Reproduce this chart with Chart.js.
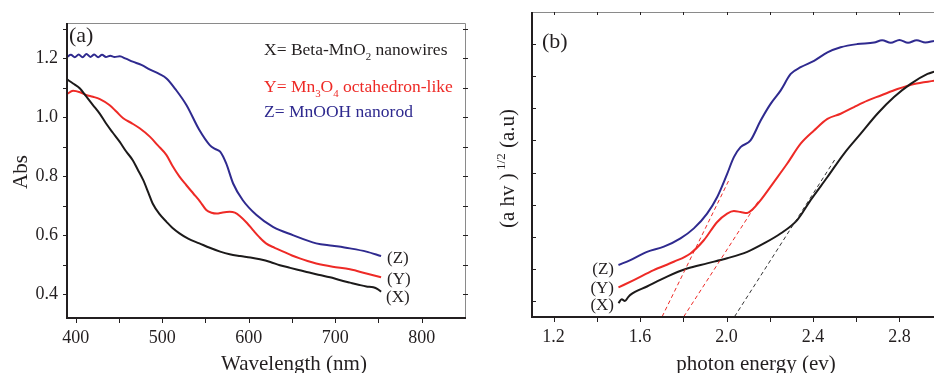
<!DOCTYPE html>
<html>
<head>
<meta charset="utf-8">
<script src="https://cdn.jsdelivr.net/npm/chart.js@4.4.0/dist/chart.umd.min.js"></script>
<style>
  html, body { margin: 0; padding: 0; background: #fff; overflow: hidden; }
  #wrap { position: relative; width: 934px; height: 373px; }
  #panelA { position: absolute; left: 0; top: 0; }
  #panelB { position: absolute; left: 480px; top: 0; }
</style>
</head>
<body>
<div id="wrap">
  <canvas id="panelA" width="480" height="373"></canvas>
  <canvas id="panelB" width="454" height="373"></canvas>
</div>
<script>
// ---- panel (a): absorbance vs wavelength ----
const waveX = [390,397,405,412,420,428,435,443,451,458,466,472,478,484,489,497,505,512,520,530,543,555,567,578,590,602,613,625,636,648,659,670,682,694,705,717,728,736,744,749,753];
const absX  = [1.129,1.115,1.098,1.072,1.042,1.012,0.98,0.948,0.917,0.886,0.855,0.822,0.788,0.745,0.708,0.672,0.646,0.625,0.607,0.589,0.573,0.558,0.545,0.536,0.53,0.525,0.519,0.51,0.499,0.49,0.482,0.474,0.466,0.458,0.449,0.44,0.432,0.427,0.424,0.418,0.409];

const waveY = [390,397,405,412,420,428,439,447,455,465,474,486,495,505,512,520,528,536,544,551,557,563,570,578,584,590,598,605,612,620,630,640,650,659,668,678,697,717,736,753];
const absY  = [1.079,1.09,1.085,1.076,1.07,1.062,1.042,1.02,0.997,0.98,0.963,0.934,0.905,0.872,0.835,0.799,0.77,0.742,0.714,0.686,0.677,0.674,0.678,0.68,0.677,0.665,0.642,0.618,0.595,0.573,0.558,0.545,0.532,0.522,0.513,0.505,0.494,0.485,0.471,0.458];

const waveZ = [390,394.5,399,403.5,408,412.5,417,421.5,426,430.5,435,440,445,451,458,466,476,486,496,505,516,528,543,555,561,567,574,582,593,609,628,651,678,697,717,736,753];
const absZ  = [1.205,1.212,1.204,1.213,1.204,1.215,1.205,1.213,1.204,1.212,1.205,1.209,1.205,1.207,1.199,1.189,1.178,1.162,1.148,1.132,1.093,1.042,0.957,0.906,0.893,0.884,0.844,0.776,0.72,0.669,0.629,0.601,0.573,0.565,0.556,0.545,0.530];

const ticksWave = [400, 500, 600, 700, 800];
const ticksAbs  = [0.4, 0.6, 0.8, 1.0, 1.2];

// ---- panel (b): (a hv)^1/2 vs photon energy ----
const energyX = [1.50,1.515,1.53,1.545,1.555,1.632,1.725,1.818,1.91,2.003,2.096,2.173,2.25,2.327,2.389,2.467,2.544,2.621,2.698,2.775,2.852,2.93,2.964];
const ahvX    = [0.93,1.05,1.0,1.12,1.19,1.45,1.76,2.01,2.17,2.33,2.53,2.79,3.10,3.52,4.14,4.86,5.59,6.21,6.83,7.35,7.76,8.07,8.15];

const energyY = [1.50,1.571,1.663,1.756,1.833,1.895,1.957,2.003,2.034,2.065,2.096,2.12,2.158,2.22,2.281,2.343,2.405,2.467,2.528,2.59,2.652,2.714,2.791,2.868,2.964];
const ahvY    = [1.42,1.65,1.96,2.22,2.48,2.89,3.46,3.72,3.80,3.77,3.74,3.85,4.14,4.71,5.28,5.90,6.31,6.67,6.83,7.04,7.24,7.40,7.60,7.76,7.86];

const energyZ = [1.50,1.555,1.632,1.71,1.787,1.849,1.91,1.957,2.003,2.034,2.065,2.111,2.158,2.204,2.25,2.297,2.343,2.405,2.467,2.528,2.605,2.683,2.72,2.76,2.80,2.84,2.88,2.92,2.96];
const ahvZ    = [2.12,2.27,2.53,2.69,2.95,3.26,3.72,4.24,4.96,5.48,5.79,6.0,6.62,7.14,7.55,8.07,8.28,8.48,8.74,8.90,9.0,9.05,9.12,9.04,9.13,9.04,9.12,9.05,9.1];

// tangent (extrapolation) lines
const tanZe = [1.702, 2.011], tanZv = [0.51, 4.76];
const tanYe = [1.802, 2.15],  tanYv = [0.51, 4.14];
const tanXe = [2.037, 2.5],   tanXv = [0.51, 5.39];

const ticksEnergy = [1.2, 1.6, 2.0, 2.4, 2.8];

const BLACK = '#1c1a1a', RED = '#ee2a26', BLUE = '#2f2a8f', TEXT = '#231f20';
const SERIF = '"Liberation Serif", "Times New Roman", serif';

Chart.defaults.font.family = SERIF;
Chart.defaults.color = TEXT;

function pts(xs, ys) {
    return xs.map((v, i) => ({ x: v, y: ys[i] }));
}

function curva(label, xs, ys, color) {
    return { label: label, data: pts(xs, ys), borderColor: color, borderWidth: 2,
             pointRadius: 0, cubicInterpolationMode: 'monotone', fill: false };
}

function tangente(label, xs, ys, color) {
    return { label: label, data: pts(xs, ys), borderColor: color, borderWidth: 1,
             borderDash: [4, 3], pointRadius: 0, tension: 0, fill: false };
}

// text with sub / superscripts: parts = [[text, 'sub'|'sup'|undefined], ...]
function rich(ctx, parts, x, y, size, color) {
    ctx.fillStyle = color;
    ctx.textBaseline = 'alphabetic';
    ctx.textAlign = 'left';
    let cx = x;
    parts.forEach(p => {
        const s = p[1] ? size * 0.62 : size;
        const dy = p[1] === 'sub' ? size * 0.28 : (p[1] === 'sup' ? -size * 0.42 : 0);
        ctx.font = s + 'px ' + SERIF;
        ctx.fillText(p[0], cx, y + dy);
        cx += ctx.measureText(p[0]).width;
    });
    return cx - x;
}

function marcoA(chart) {
    const ctx = chart.ctx, a = chart.chartArea, sx = chart.scales.x, sy = chart.scales.y;
    ctx.save();
    ctx.strokeStyle = '#8a8a8a'; ctx.lineWidth = 1;
    ctx.beginPath();
    ctx.moveTo(a.left, a.top + 0.5); ctx.lineTo(a.right + 0.5, a.top + 0.5); ctx.lineTo(a.right + 0.5, a.bottom);
    ctx.stroke();
    ctx.strokeStyle = TEXT; ctx.lineWidth = 2;
    ctx.beginPath();
    ctx.moveTo(a.left, a.top); ctx.lineTo(a.left, a.bottom); ctx.lineTo(a.right + 1, a.bottom);
    ctx.stroke();
    ctx.lineWidth = 1;
    ctx.beginPath();
    for (let w = 400; w <= 800; w += 50) {
        const px = Math.round(sx.getPixelForValue(w)) + 0.5;
        ctx.moveTo(px, a.bottom); ctx.lineTo(px, a.bottom + 5);
    }
    for (let k = 4; k <= 13; k++) {
        const py = Math.round(sy.getPixelForValue(k / 10)) + 0.5;
        ctx.moveTo(a.left - 4, py); ctx.lineTo(a.left, py);
        ctx.moveTo(a.right - 2, py); ctx.lineTo(a.right + 3, py);
    }
    ctx.stroke();

    // texts
    ctx.font = '22px ' + SERIF; ctx.fillStyle = TEXT; ctx.textAlign = 'left'; ctx.textBaseline = 'alphabetic';
    ctx.fillText('(a)', 69, 42);
    rich(ctx, [['X= Beta-MnO'], ['2', 'sub'], [' nanowires']], 264, 55, 17.5, TEXT);
    rich(ctx, [['Y= Mn'], ['3', 'sub'], ['O'], ['4', 'sub'], [' octahedron-like']], 264, 92, 17.5, RED);
    rich(ctx, [['Z= MnOOH nanorod']], 264, 117, 17.5, BLUE);
    ctx.font = '17px ' + SERIF; ctx.fillStyle = TEXT;
    ctx.fillText('(Z)', 387, 263);
    ctx.fillText('(Y)', 387, 284);
    ctx.fillText('(X)', 386, 302);

    // axis titles
    ctx.font = '21px ' + SERIF; ctx.textAlign = 'center';
    ctx.fillText('Wavelength (nm)', 294, 370);
    ctx.save();
    ctx.translate(27, 172); ctx.rotate(-Math.PI / 2);
    ctx.textBaseline = 'alphabetic';
    ctx.fillText('Abs', 0, 0);
    ctx.restore();
    ctx.restore();
}

function marcoB(chart) {
    const ctx = chart.ctx, a = chart.chartArea, sx = chart.scales.x, sy = chart.scales.y;
    ctx.save();
    ctx.strokeStyle = '#8a8a8a'; ctx.lineWidth = 1;
    ctx.beginPath();
    ctx.moveTo(a.left, a.top + 0.5); ctx.lineTo(a.right + 2, a.top + 0.5);
    ctx.stroke();
    ctx.strokeStyle = TEXT; ctx.lineWidth = 2;
    ctx.beginPath();
    ctx.moveTo(a.left, a.top); ctx.lineTo(a.left, a.bottom); ctx.lineTo(a.right + 2, a.bottom);
    ctx.stroke();
    ctx.lineWidth = 1;
    ctx.beginPath();
    for (let k = 6; k <= 14; k++) {
        const px = Math.round(sx.getPixelForValue(k / 5)) + 0.5;
        ctx.moveTo(px, a.bottom); ctx.lineTo(px, a.bottom + 5);
        ctx.moveTo(px, a.top); ctx.lineTo(px, a.top + 3);
    }
    for (let v = 1; v <= 9; v++) {
        const py = Math.round(sy.getPixelForValue(v)) + 0.5;
        ctx.moveTo(a.left, py); ctx.lineTo(a.left + 4, py);
    }
    ctx.stroke();

    ctx.font = '22px ' + SERIF; ctx.fillStyle = TEXT; ctx.textAlign = 'left'; ctx.textBaseline = 'alphabetic';
    ctx.fillText('(b)', 62, 48);
    ctx.font = '17px ' + SERIF; ctx.textAlign = 'right';
    ctx.fillText('(Z)', 134, 274);
    ctx.fillText('(Y)', 134, 293);
    ctx.fillText('(X)', 134, 310);

    ctx.font = '21px ' + SERIF; ctx.textAlign = 'center';
    ctx.fillText('photon energy (ev)', 276, 370);
    ctx.save();
    ctx.translate(34, 228); ctx.rotate(-Math.PI / 2);
    rich(ctx, [['(a hv )'], [' 1/2', 'sup'], [' (a.u)']], 0, 0, 21, TEXT);
    ctx.restore();
    ctx.restore();
}

function ejes(xMin, xMax, yMin, yMax, xTicks, yTicks, yWidth, xHeight, xFmt) {
    return {
        x: {
            type: 'linear', min: xMin, max: xMax,
            grid: { display: false, drawTicks: false }, border: { display: false },
            afterBuildTicks: s => { s.ticks = xTicks.map(v => ({ value: v })); },
            afterFit: s => { s.height = xHeight; },
            ticks: { font: { size: 18 }, padding: 9, maxRotation: 0, callback: xFmt }
        },
        y: {
            type: 'linear', min: yMin, max: yMax,
            grid: { display: false, drawTicks: false }, border: { display: false },
            afterBuildTicks: s => { s.ticks = yTicks.map(v => ({ value: v })); },
            afterFit: s => { s.width = yWidth; },
            ticks: { display: yTicks.length > 0, font: { size: 18 }, padding: 9,
                     callback: v => Number(v).toFixed(1) }
        }
    };
}

new Chart(document.getElementById('panelA'), {
    type: 'line',
    data: {
        datasets: [
            curva('X', waveX, absX, BLACK),
            curva('Y', waveY, absY, RED),
            curva('Z', waveZ, absZ, BLUE)
        ]
    },
    options: {
        responsive: false, animation: false, events: [],
        layout: { padding: { top: 23, right: 15, left: 0, bottom: 0 } },
        scales: ejes(390, 850, 0.32, 1.32, ticksWave, ticksAbs, 67, 55, v => String(v)),
        plugins: { legend: { display: false }, tooltip: { enabled: false } }
    },
    plugins: [{ id: 'marcoA', afterDraw: marcoA }]
});

new Chart(document.getElementById('panelB'), {
    type: 'line',
    data: {
        datasets: [
            tangente('tangente Z', tanZe, tanZv, RED),
            tangente('tangente Y', tanYe, tanYv, RED),
            tangente('tangente X', tanXe, tanXv, '#333'),
            curva('X', energyX, ahvX, BLACK),
            curva('Y', energyY, ahvY, RED),
            curva('Z', energyZ, ahvZ, BLUE)
        ]
    },
    options: {
        responsive: false, animation: false, events: [],
        layout: { padding: { top: 12, right: 0, left: 0, bottom: 0 } },
        scales: ejes(1.1, 2.96, 0.5, 10, ticksEnergy, [], 52, 56, v => Number(v).toFixed(1)),
        plugins: { legend: { display: false }, tooltip: { enabled: false } }
    },
    plugins: [{ id: 'marcoB', afterDraw: marcoB }]
});
</script>
</body>
</html>
